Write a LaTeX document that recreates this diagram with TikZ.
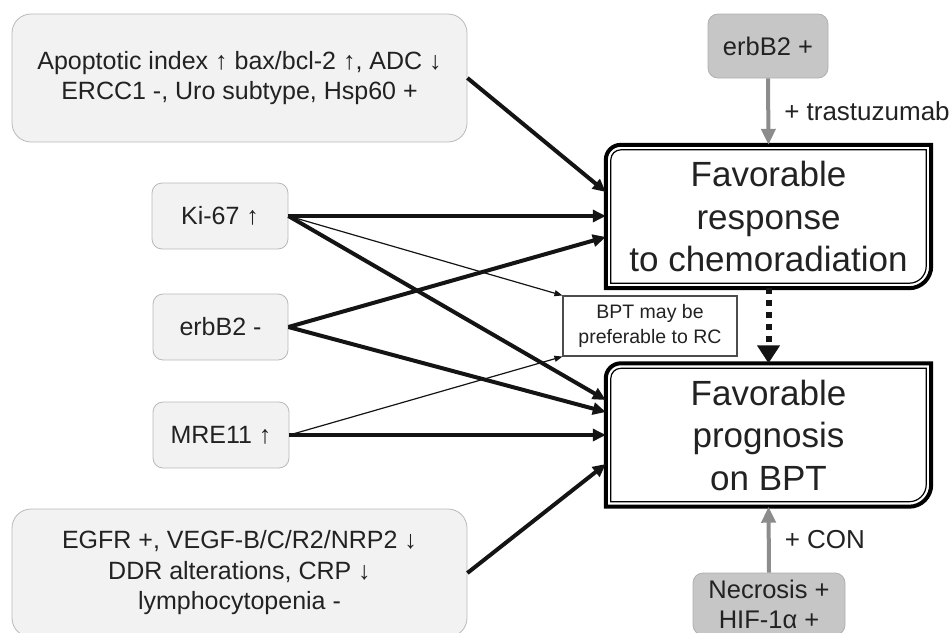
\documentclass[tikz,border=0pt]{standalone}
\usepackage{fontspec}
\setmainfont{Liberation Sans}
\usetikzlibrary{arrows.meta}
\definecolor{lightbox}{RGB}{242,242,242}
\definecolor{lightedge}{RGB}{185,185,185}
\definecolor{darkbox}{RGB}{198,198,198}
\definecolor{darkedge}{RGB}{175,175,175}
\definecolor{greyarrow}{RGB}{140,140,140}
\definecolor{txt}{RGB}{34,34,34}
\newcommand{\bigframe}[5]{%
\draw[line width=#3] ([shift={(-#2,-#2)}]#1.north east) -- ([shift={(-#2,#2+#5)}]#1.south east) arc[start angle=0,end angle=-90,radius=#5] -- ([shift={(#2,#2)}]#1.south west) -- ([shift={(#2,-#2-#4)}]#1.north west) arc[start angle=180,end angle=90,radius=#4] -- cycle;}
\begin{document}
\begin{tikzpicture}[x=1pt,y=-1pt,
  lbox/.style={draw=lightedge, fill=lightbox, rounded corners=19pt, line width=0.8pt, align=center, text=txt, font=\fontsize{25}{30.5}\selectfont, inner sep=0pt},
  sbox/.style={lbox, rounded corners=10pt},
  dbox/.style={draw=darkedge, fill=darkbox, rounded corners=10pt, line width=0.8pt, align=center, text=txt, font=\fontsize{25.5}{30}\selectfont, inner sep=0pt},
  bigbox/.style={align=center, minimum width=325pt, minimum height=143pt, inner sep=0pt, font=\fontsize{35}{42.5}\selectfont, text=txt},
  thk/.style={line width=4pt, draw=black!92, -{Triangle[length=13pt,width=12pt]}},
  thn/.style={line width=1.2pt, draw=black!92, -{Triangle[length=8pt,width=6pt]}},
  gry/.style={line width=4pt, draw=greyarrow, -{Triangle[length=16pt,width=14pt]}},
  lbl/.style={text=txt, font=\fontsize{26}{30}\selectfont, inner sep=0pt, anchor=west, xshift=14pt}
]
\useasboundingbox (0,0) rectangle (950,632);
\clip (0,0) rectangle (950,632);

% left boxes
\node[lbox, minimum width=455pt, minimum height=128pt] (apo) at (239.5,78)
  {Apoptotic index ↑ bax/bcl-2 ↑, ADC ↓\\ERCC1 -, Uro subtype, Hsp60 +};
\node[sbox, minimum width=136pt, minimum height=66pt] (ki) at (220,216) {Ki-67 ↑};
\node[sbox, minimum width=135pt, minimum height=66pt] (erbm) at (220.5,327) {erbB2 -};
\node[sbox, minimum width=136pt, minimum height=66pt] (mre) at (221,435) {MRE11 ↑};
\node[lbox, minimum width=455pt, minimum height=128pt] (egfr) at (239.5,573)
  {EGFR +, VEGF-B/C/R2/NRP2 ↓\\DDR alterations, CRP ↓\\lymphocytopenia -};

% right side
\node[dbox, minimum width=120pt, minimum height=64pt] (erbp) at (768,46) {erbB2 +};
\node[dbox, minimum width=152pt, minimum height=62pt] (nec) at (769,604) {Necrosis +\\HIF-1α +};
\node[bigbox] (resp) at (768.5,216.5) {Favorable\\response\\to chemoradiation};
\node[bigbox] (prog) at (768.5,435) {Favorable\\prognosis\\on BPT};
\bigframe{resp}{0pt}{4pt}{15pt}{22pt}
\bigframe{resp}{5pt}{1.2pt}{10pt}{17pt}
\bigframe{prog}{0pt}{4pt}{15pt}{22pt}
\bigframe{prog}{5pt}{1.2pt}{10pt}{17pt}

\node[draw=black!70, fill=white, line width=1.1pt, minimum width=174pt, minimum height=60pt, align=center, text=txt, font=\fontsize{19.5}{25}\selectfont, inner sep=0pt] (bpt) at (650,326) {BPT may be\\preferable to RC};

% connectors
\draw[thk] (apo.east) -- ([yshift=24.5pt]resp.west);
\draw[thk] (ki.east) -- (ki.east -| resp.west);
\draw[thk] (ki.east) -- ([yshift=35pt]prog.west);
\draw[thk] (erbm.east) -- ([yshift=-20.5pt]resp.west);
\draw[thk] (erbm.east) -- ([yshift=23pt]prog.west);
\draw[thk] (mre.east) -- (mre.east -| prog.west);
\draw[thk] (egfr.east) -- ([yshift=-29pt]prog.west);
\draw[thn] (ki.east) -- (bpt.north west);
\draw[thn] (mre.east) -- (bpt.south west);

\draw[gry] (erbp.south) -- node[lbl] (trl) {+ trastuzumab} (resp.north);
\draw[gry] (nec.north) -- node[lbl] (conl) {+ CON} (prog.south);
\draw[line width=6pt, draw=black!92, dash pattern=on 6pt off 6pt, -{Triangle[length=18pt,width=22pt]}] (resp.south) -- (prog.north);
\end{tikzpicture}
\end{document}
